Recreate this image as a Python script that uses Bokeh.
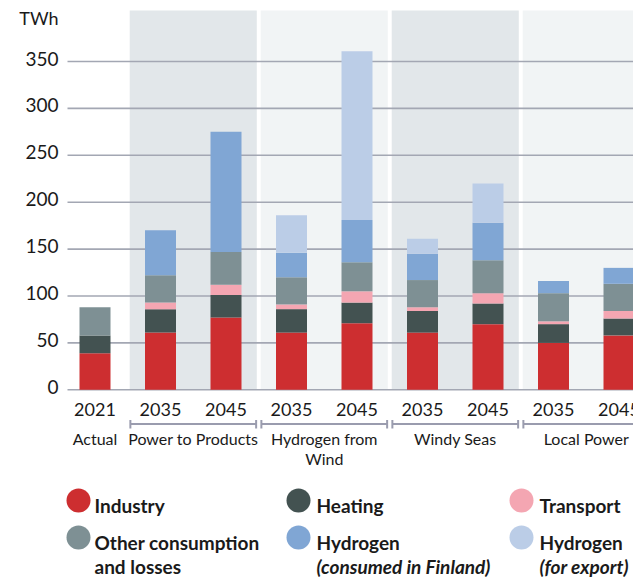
from bokeh.plotting import figure
from bokeh.models import ColumnDataSource, Range1d
from bokeh.core.properties import value
from bokeh.embed import file_html
from bokeh.resources import INLINE

# ---------------- data ----------------
years = ["2021", "2035", "2045", "2035", "2045", "2035", "2045", "2035", "2045"]
bar_scenario = ["Actual", "Power to Products", "Power to Products",
                "Hydrogen from Wind", "Hydrogen from Wind",
                "Windy Seas", "Windy Seas", "Local Power", "Local Power"]
scenarios = ["Actual", "Power to Products", "Hydrogen from Wind", "Windy Seas", "Local Power"]
scenario_labels = [["Actual"], ["Power to Products"], ["Hydrogen from", "Wind"],
                   ["Windy Seas"], ["Local Power"]]

industry = [39, 61, 77, 61, 71, 61, 70, 50, 58]
heating = [19, 25, 24, 25, 22, 23, 22, 20, 18]
transport = [0, 7, 11, 5, 12, 4, 11, 3, 8]
other = [30, 29, 35, 29, 31, 29, 35, 30, 29]
hydrogen_fi = [0, 48, 128, 26, 45, 28, 40, 13, 17]
hydrogen_export = [0, 0, 0, 40, 180, 16, 42, 0, 0]

y_ticks = [0, 50, 100, 150, 200, 250, 300, 350]
unit_label = "TWh"

series_keys = ["industry", "heating", "transport", "other", "hydrogen_fi", "hydrogen_export"]
legend_line1 = ["Industry", "Heating", "Transport", "Other consumption", "Hydrogen", "Hydrogen"]
legend_line2 = ["", "", "", "and losses", "(consumed in Finland)", "(for export)"]

# ---------------- style ----------------
colors = ["#cd2e30", "#435251", "#f4a6b2", "#7e9094", "#80a6d4", "#bbcde7"]
band_dark = "#e2e7ea"
band_light = "#f1f4f5"
grid_color = "#a3a7b3"
text_color = "#1a1a1a"
FONT = value("Lato")

W, H = 633, 579
# pixel layout -> data helpers
X0, DX = 94.5, 65.5      # px of bar 0, px per bar slot
Y0, DY = 389.3, 0.938    # px of value 0, px per TWh


def xd(px):
    return (px - X0) / DX


def yd(px):
    return (Y0 - px) / DY


p = figure(width=W, height=H, output_backend="svg", toolbar_location=None,
           x_range=Range1d(xd(0), xd(W)), y_range=Range1d(yd(H), yd(0)),
           x_axis_location=None, y_axis_location=None, min_border=0,
           outline_line_color=None, background_fill_color="white",
           border_fill_color="white")
p.grid.visible = False

xs = list(range(len(years)))

# ---------------- scenario bands ----------------
band_left, band_right, band_fill = [], [], []
for k, sc in enumerate(scenarios):
    idx = [i for i, s in enumerate(bar_scenario) if s == sc]
    if k == 0:
        continue
    band_left.append(min(idx) - 0.5 + 0.03)
    band_right.append(max(idx) + 0.5 - 0.03)
    band_fill.append(band_dark if k % 2 == 1 else band_light)
p.quad(left=band_left, right=band_right, bottom=0, top=yd(10),
       fill_color=band_fill, line_color=None)

# ---------------- grid lines ----------------
p.segment(x0=xd(67), x1=xd(W + 5), y0=y_ticks, y1=y_ticks,
          line_color=grid_color, line_width=1.6)

# ---------------- stacked bars ----------------
src = ColumnDataSource(dict(x=xs, industry=industry, heating=heating, transport=transport,
                            other=other, hydrogen_fi=hydrogen_fi,
                            hydrogen_export=hydrogen_export))
p.vbar_stack(series_keys, x="x", width=31 / DX, color=colors, line_color=None, source=src)

# ---------------- y tick labels ----------------
p.text(x=[xd(58)] * len(y_ticks), y=y_ticks, text=[str(t) for t in y_ticks],
       text_font=FONT, text_font_size="19px", text_align="right",
       text_baseline="middle", y_offset=-3, text_color=text_color)
p.text(x=[xd(58)], y=[yd(17.5)], text=[unit_label], text_font=FONT,
       text_font_size="18px", text_align="right", text_baseline="middle",
       text_color=text_color)

# ---------------- year labels ----------------
p.text(x=xs, y=[yd(408.5)] * len(xs), text=years, text_font=FONT,
       text_font_size="18px", text_align="center", text_baseline="middle",
       text_color=text_color)

# ---------------- scenario brackets & labels ----------------
bx0, bx1 = [], []
tx, ty, tt = [], [], []
for k, sc in enumerate(scenarios):
    idx = [i for i, s in enumerate(bar_scenario) if s == sc]
    cx = (min(idx) + max(idx)) / 2
    for j, line in enumerate(scenario_labels[k]):
        tx.append(cx)
        ty.append(yd(437.5 + 20 * j))
        tt.append(line)
    if k == 0:
        continue
    bx0.append(min(idx) - 0.5 + 0.04)
    bx1.append(max(idx) + 0.5 - 0.04)
p.segment(x0=bx0, x1=bx1, y0=yd(423.5), y1=yd(423.5), line_color="#9a9cae", line_width=2)
p.segment(x0=bx0 + bx1, x1=bx0 + bx1, y0=yd(419.5), y1=yd(428), line_color="#9a9cae",
          line_width=2)
p.text(x=tx, y=ty, text=tt, text_font=FONT, text_font_size="16px", text_align="center",
       text_baseline="middle", text_color=text_color)

# ---------------- legend ----------------
col_dot = [78, 298, 521]
col_txt = [94, 316, 539]
row_dot = [500, 537]
row_txt = [504.5, 541.5]
for n in range(len(series_keys)):
    r, c = divmod(n, 3)
    p.scatter(x=[xd(col_dot[c])], y=[yd(row_dot[r])], size=24, marker="circle",
              fill_color=colors[n], line_color=None)
    p.text(x=[xd(col_txt[c])], y=[yd(row_txt[r])], text=[legend_line1[n]], text_font=FONT,
           text_font_size="19px", text_font_style="bold", text_align="left",
           text_baseline="middle", text_color=text_color)
    if legend_line2[n]:
        style = "bold" if legend_line2[n] == "and losses" else "bold italic"
        p.text(x=[xd(col_txt[c])], y=[yd(row_txt[r] + 24.5)], text=[legend_line2[n]],
               text_font=FONT, text_font_size="19px", text_font_style=style,
               text_align="left", text_baseline="middle", text_color=text_color)

open("out.html", "w").write(file_html(p, INLINE))
